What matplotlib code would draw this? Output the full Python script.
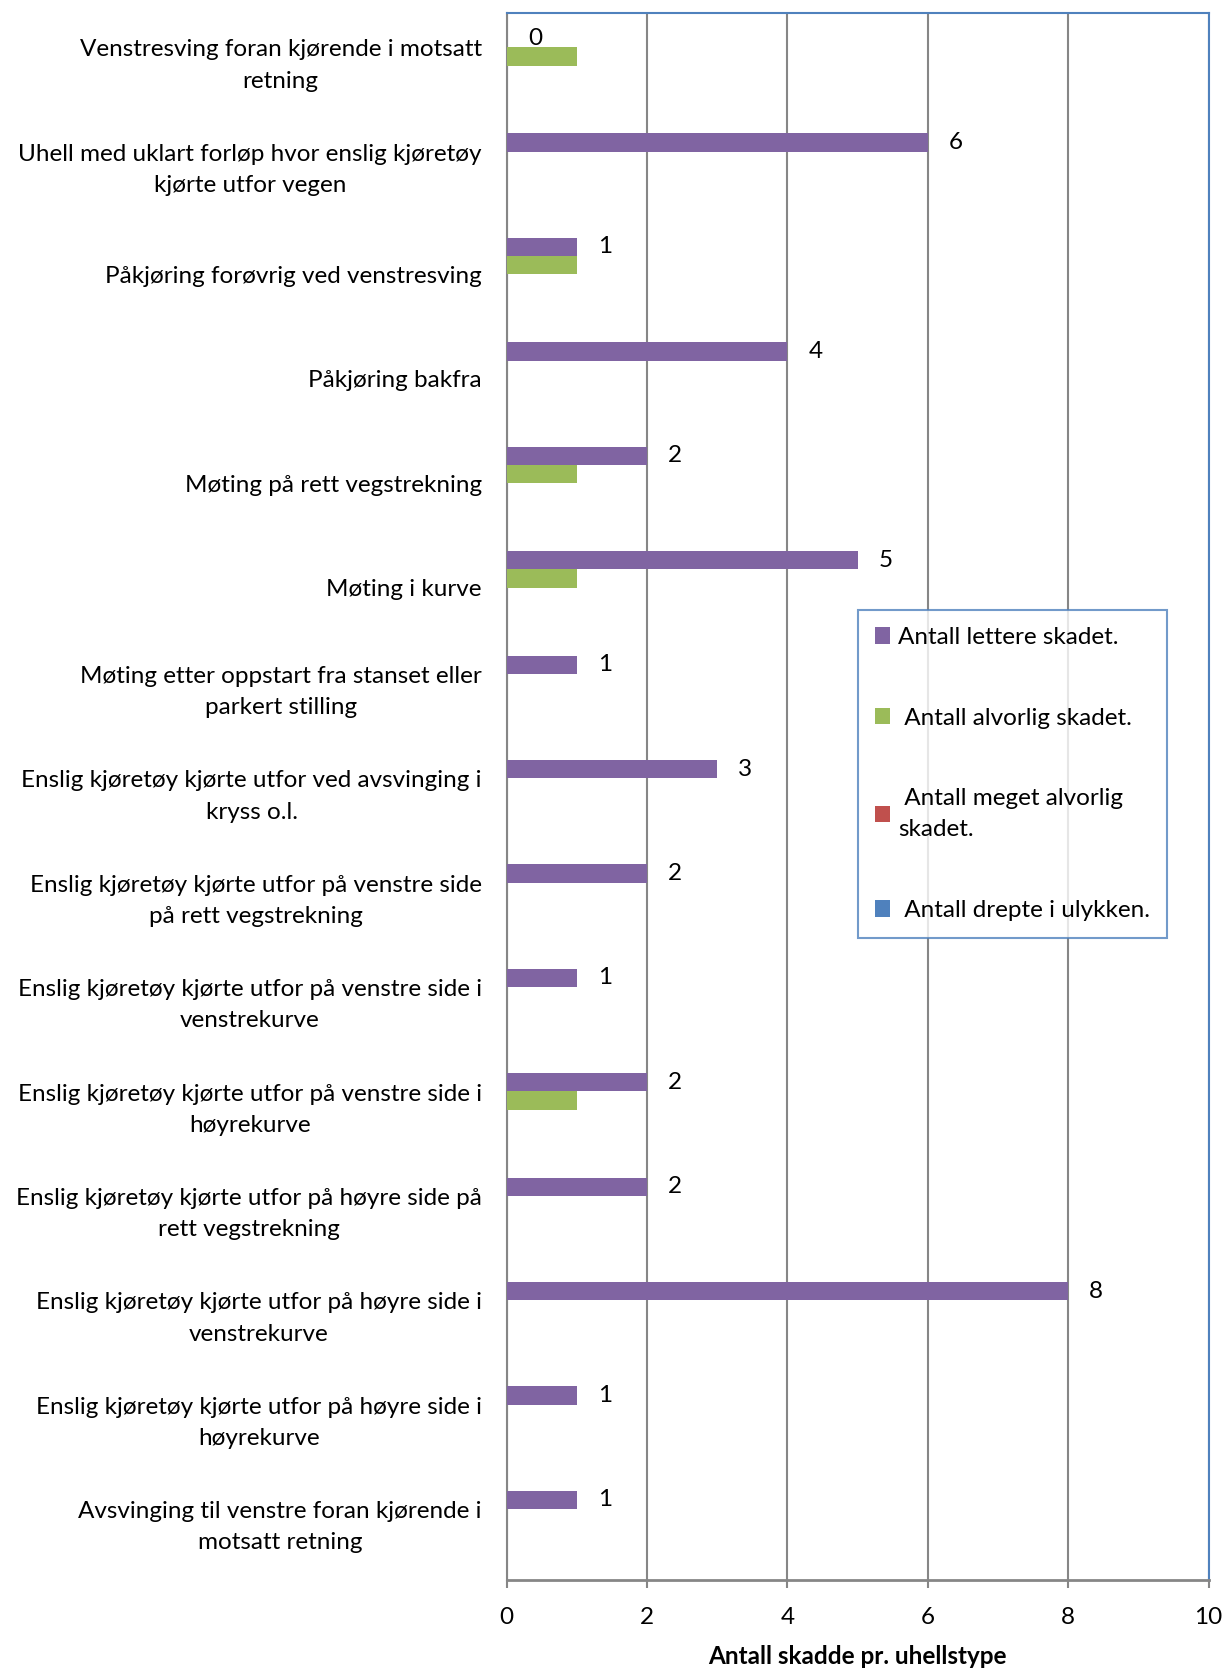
import numpy as np
import matplotlib.pyplot as plt

plt.rcParams['font.family'] = ['Lato', 'DejaVu Sans']

# Uhellstyper (ovenfra og ned)
kategorier = [
    'Venstresving foran kjørende i motsatt\nretning',
    'Uhell med uklart forløp hvor enslig kjøretøy\nkjørte utfor vegen',
    'Påkjøring forøvrig ved venstresving',
    'Påkjøring bakfra',
    'Møting på rett vegstrekning',
    'Møting i kurve',
    'Møting etter oppstart fra stanset eller\nparkert stilling',
    'Enslig kjøretøy kjørte utfor ved avsvinging i\nkryss o.l.',
    'Enslig kjøretøy kjørte utfor på venstre side\npå rett vegstrekning',
    'Enslig kjøretøy kjørte utfor på venstre side i\nvenstrekurve',
    'Enslig kjøretøy kjørte utfor på venstre side i\nhøyrekurve',
    'Enslig kjøretøy kjørte utfor på høyre side på\nrett vegstrekning',
    'Enslig kjøretøy kjørte utfor på høyre side i\nvenstrekurve',
    'Enslig kjøretøy kjørte utfor på høyre side i\nhøyrekurve',
    'Avsvinging til venstre foran kjørende i\nmotsatt retning',
]
lettere = [0, 6, 1, 4, 2, 5, 1, 3, 2, 1, 2, 2, 8, 1, 1]
alvorlig = [1, 0, 1, 0, 1, 1, 0, 0, 0, 0, 1, 0, 0, 0, 0]
meget_alvorlig = [0] * 15
drepte = [0] * 15

serier = [
    ('Antall lettere skadet.', lettere, '#8064A2'),
    (' Antall alvorlig skadet.', alvorlig, '#9BBB59'),
    (' Antall meget alvorlig\nskadet.', meget_alvorlig, '#C0504D'),
    (' Antall drepte i ulykken.', drepte, '#4F81BD'),
]

fs = 17.5

fig = plt.figure(figsize=(12.27, 16.68), dpi=100)
ax = fig.add_axes([0.413, 0.053, 0.572, 0.939])

y = np.arange(len(kategorier))
w = 0.175
for k, (navn, verdier, farge) in enumerate(serier):
    ax.barh(y + (k - 1.5) * w, verdier, height=w, color=farge, label=navn, zorder=3)

# verdietiketter for lettere skadet
for yi, v in zip(y, lettere):
    ax.text(v + 0.3, yi - 1.5 * w, str(v), va='center', ha='left', fontsize=fs)

ax.set_ylim(len(kategorier) - 0.5, -0.5)
ax.set_xlim(0, 10)
ax.set_xticks(range(0, 11, 2))
ax.set_yticks(y)
ax.set_yticklabels(kategorier, fontsize=fs)
for t in ax.get_yticklabels():
    t.set_multialignment('center')
    if '\n' in t.get_text():
        t.set_linespacing(1.6)
        t.set_verticalalignment('center')
ax.tick_params(axis='y', length=0, pad=18)
ax.tick_params(axis='x', labelsize=fs, length=6, width=1.5, color='#868686', pad=14)

ax.grid(axis='x', color='#868686', linewidth=1.5, zorder=0)
ax.spines['left'].set_color('#868686')
ax.spines['bottom'].set_color('#868686')
ax.spines['left'].set_linewidth(1.5)
ax.spines['bottom'].set_linewidth(2)
ax.spines['top'].set_color('#4F81BD')
ax.spines['right'].set_color('#4F81BD')
ax.spines['top'].set_linewidth(1.5)
ax.spines['right'].set_linewidth(1.5)

ax.set_xlabel('Antall skadde pr. uhellstype', fontsize=fs, fontweight='bold', labelpad=12)

leg = ax.legend(loc='upper left', bbox_to_anchor=(0.5, 0.619), fontsize=fs,
                frameon=True, fancybox=False, edgecolor='#4F81BD',
                handlelength=0.65, handleheight=0.65, handletextpad=0.3,
                labelspacing=2.45, borderpad=0.7, borderaxespad=0)
leg.get_frame().set_linewidth(1.5)
for t in leg.get_texts():
    t.set_linespacing(1.6)

plt.savefig('out.png', dpi=100)
